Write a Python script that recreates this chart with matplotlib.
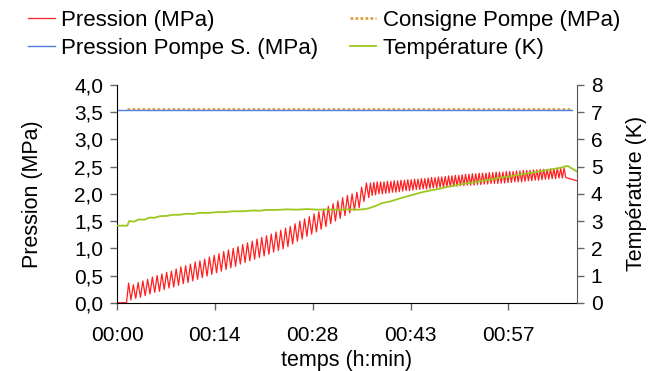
import numpy as np
import matplotlib.pyplot as plt
from matplotlib.ticker import FuncFormatter

plt.rcParams['font.family'] = ['Liberation Sans', 'DejaVu Sans']

# Temps en minutes depuis le début de l'essai
x_ticks = [0, 14.4, 28.8, 43.2, 57.6]
x_labels = ['00:00', '00:14', '00:28', '00:43', '00:57']

# Pression (MPa) : palier à zéro, puis dents (pic / creux)
t_debut = [0.0, 1.4]
p_debut = [0.0, 0.0]
dt1, t0_1 = 0.35, 1.7
pics1 = [0.36, 0.33, 0.37, 0.40, 0.43, 0.47, 0.50, 0.53, 0.56, 0.58,
         0.62, 0.66, 0.68, 0.71, 0.75, 0.77, 0.80, 0.84, 0.87, 0.90,
         0.94, 0.97, 1.00, 1.03, 1.07, 1.10, 1.13, 1.17, 1.20, 1.23,
         1.26, 1.30, 1.33, 1.37, 1.40, 1.45, 1.50, 1.54, 1.58, 1.63,
         1.67, 1.72, 1.77, 1.82, 1.87, 1.93, 1.97, 2.00, 2.03, 2.12, 2.20]
creux1 = [0.05, 0.08, 0.10, 0.13, 0.16, 0.19, 0.21, 0.24, 0.27, 0.29,
          0.32, 0.35, 0.37, 0.40, 0.43, 0.46, 0.49, 0.52, 0.55, 0.58,
          0.61, 0.64, 0.67, 0.71, 0.74, 0.77, 0.80, 0.83, 0.86, 0.89,
          0.93, 0.96, 0.99, 1.03, 1.08, 1.13, 1.17, 1.22, 1.26, 1.30,
          1.35, 1.40, 1.45, 1.50, 1.55, 1.60, 1.65, 1.70, 1.75, 1.86, 1.93]
dt2, t0_2 = 0.25, 37.3
pics2 = [2.20, 2.21, 2.22, 2.22, 2.22, 2.23, 2.23, 2.24, 2.24, 2.25,
         2.25, 2.26, 2.26, 2.27, 2.27, 2.28, 2.28, 2.29, 2.30, 2.30,
         2.31, 2.31, 2.32, 2.33, 2.33, 2.34, 2.34, 2.35, 2.36, 2.36,
         2.37, 2.37, 2.38, 2.38, 2.38, 2.39, 2.39, 2.40, 2.40, 2.40,
         2.41, 2.41, 2.41, 2.42, 2.42, 2.43, 2.43, 2.43, 2.44, 2.44,
         2.45, 2.45, 2.45, 2.46, 2.46, 2.47, 2.47, 2.47]
creux2 = [1.97, 1.98, 2.00, 2.00, 2.01, 2.02, 2.03, 2.03, 2.04, 2.05,
          2.06, 2.06, 2.07, 2.08, 2.08, 2.09, 2.09, 2.10, 2.11, 2.11,
          2.12, 2.12, 2.13, 2.13, 2.14, 2.14, 2.15, 2.15, 2.16, 2.16,
          2.16, 2.17, 2.17, 2.18, 2.18, 2.19, 2.19, 2.19, 2.20, 2.20,
          2.21, 2.21, 2.22, 2.22, 2.22, 2.23, 2.24, 2.24, 2.25, 2.25,
          2.26, 2.27, 2.27, 2.28, 2.28, 2.29, 2.29, 2.30]
t_fin = [67.7]
p_fin = [2.24]

# Pression pompe et consigne (MPa)
t_pompe = [0.0, 67.0]
p_pompe = [3.54, 3.54]
t_consigne = [1.5, 67.0]
p_consigne = [3.55, 3.55]

# Température (K)
t_temp = [0, 1.5, 1.8, 2.5, 3.2, 4.0, 4.8, 5.5, 6.3, 7.3, 8.2, 9.2, 10.2,
          11.2, 12.1, 13.5, 14.8, 16.0, 17.0, 18.5, 20.0, 21.0, 22.0, 23.5,
          25.0, 26.5, 28.0, 29.5, 31.0, 32.5, 34.0, 35.5, 36.5, 37.2, 38.0,
          39.0, 40.2, 41.2, 43.0, 44.6, 46.0, 47.5, 48.5, 50.0, 51.0, 52.5,
          53.5, 55.0, 56.5, 58.0, 59.5, 61.0, 62.5, 64.0, 65.5, 66.3, 67.7]
temp = [2.83, 2.83, 3.00, 2.98, 3.06, 3.05, 3.13, 3.12, 3.18, 3.19, 3.23,
        3.23, 3.27, 3.26, 3.30, 3.30, 3.33, 3.33, 3.36, 3.36, 3.39, 3.38,
        3.41, 3.41, 3.43, 3.42, 3.44, 3.42, 3.43, 3.41, 3.43, 3.42, 3.44,
        3.48, 3.55, 3.66, 3.72, 3.80, 3.93, 4.04, 4.12, 4.19, 4.25, 4.32,
        4.37, 4.42, 4.47, 4.53, 4.60, 4.65, 4.72, 4.77, 4.84, 4.90, 4.97,
        5.03, 4.82]

# assemblage de la courbe de pression
t_p, p = list(t_debut), list(p_debut)
for t0, dt, pics, creux in [(t0_1, dt1, pics1, creux1), (t0_2, dt2, pics2, creux2)]:
    for i, (ph, pb) in enumerate(zip(pics, creux)):
        t_p += [t0 + 2 * i * dt, t0 + (2 * i + 1) * dt]
        p += [ph, pb]
t_p += t_fin
p += p_fin

rouge = '#ff1f1f'
bleu = '#4f7fdc'
orange = '#e0a040'
vert = '#9cc81e'

fig, ax = plt.subplots(figsize=(6.48, 3.71), dpi=100)
fig.subplots_adjust(left=0.1806, right=0.8904, bottom=0.184, top=0.771)
ax2 = ax.twinx()

l_cons, = ax.plot(t_consigne, p_consigne, color=orange, lw=2.0, ls=(0, (1, 0.8)),
                  label='Consigne Pompe (MPa)')
l_pompe, = ax.plot(t_pompe, p_pompe, color=bleu, lw=1.0, label='Pression Pompe S. (MPa)')
l_p, = ax.plot(t_p, p, color=rouge, lw=0.9, label='Pression (MPa)')
l_t, = ax2.plot(t_temp, temp, color=vert, lw=1.3, label='Température (K)')

ax.set_xlim(0, 67.7)
ax.set_ylim(0, 4)
ax2.set_ylim(0, 8)
ax.set_xticks(x_ticks)
ax.set_xticklabels(x_labels)
ax.set_yticks(np.arange(0, 4.01, 0.5))
ax.yaxis.set_major_formatter(FuncFormatter(lambda v, pos: f"{v:.1f}".replace('.', ',')))
ax2.set_yticks(range(0, 9))

for a in (ax, ax2):
    a.spines['top'].set_visible(False)
ax.spines['right'].set_visible(False)
ax2.spines['left'].set_visible(False)
ax2.spines['bottom'].set_visible(False)
ax2.spines['right'].set_color('#555555')
ax.tick_params(axis='y', labelsize=15, length=5, width=1, color='#666666', pad=5)
ax.tick_params(axis='x', labelsize=15, length=5, width=1, color='#666666', pad=12)
ax2.tick_params(axis='y', labelsize=15, length=5, width=1, color='#666666', pad=5)

ax.set_xlabel('temps (h:min)', fontsize=15.5, labelpad=3)
ax.set_ylabel('Pression (MPa)', fontsize=15.5, labelpad=22)
ax2.set_ylabel('Température (K)', fontsize=15.5, labelpad=17)

fig.legend([l_p, l_pompe, l_cons, l_t],
           ['Pression (MPa)', 'Pression Pompe S. (MPa)', 'Consigne Pompe (MPa)', 'Température (K)'],
           loc='upper left', bbox_to_anchor=(28 / 648, 1 - 10 / 371), ncol=2, frameon=False,
           fontsize=16, handlelength=1.2, handletextpad=0.3, columnspacing=1.4,
           labelspacing=0.3, borderpad=0, borderaxespad=0)

fig.savefig('out.png', dpi=100)
